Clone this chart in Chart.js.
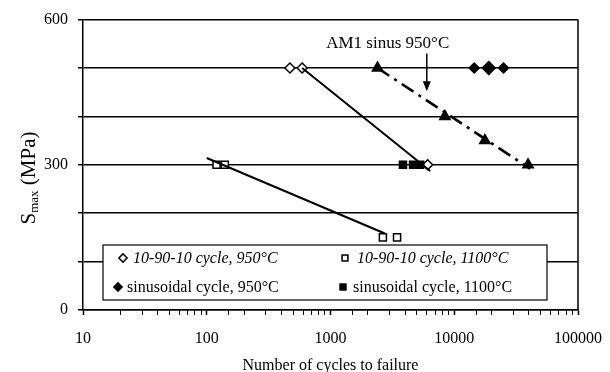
<!DOCTYPE html>
<html>
<head>
<meta charset="utf-8">
<script src="https://cdn.jsdelivr.net/npm/chart.js@4/dist/chart.umd.min.js"></script>
<style>
  body { margin: 0; background: #fff; }
  canvas { display: block; }
</style>
</head>
<body>
<canvas id="fatigueChart" width="610" height="372"></canvas>
<script>
// values
const cycle950N = [470, 590, 6100];
const cycle950S = [500, 500, 300];
const cycle1100N = [120, 140, 2650, 3450];
const cycle1100S = [300, 300, 150, 150];
const sin950N = [14500, 19000, 25000];
const sin950S = [500, 500, 500];
const sin1100N = [3850, 4650, 5300];
const sin1100S = [300, 300, 300];
const am1N = [2400, 8400, 17700, 39500];
const am1S = [500, 400, 350, 300];

// trend lines (end points)
const fit950N = [590, 6400];
const fit950S = [500, 287];
const fit1100N = [100, 2750];
const fit1100S = [314, 158];
const fitAm1N = [2400, 41000];
const fitAm1S = [500, 292];

const xTicks = [10, 100, 1000, 10000, 100000];
const yLabels = [0, 300, 600];

const legendItems = [
    { text: '10-90-10 cycle, 950°C', style: 'rectRot', fill: '#fff', italic: true, mx: 123, tx: 133 },
    { text: '10-90-10 cycle, 1100°C', style: 'rect', fill: '#fff', italic: true, mx: 345, tx: 357 },
    { text: 'sinusoidal cycle, 950°C', style: 'rectRot', fill: '#000', italic: false, mx: 118, tx: 127 },
    { text: 'sinusoidal cycle, 1100°C', style: 'rect', fill: '#000', italic: false, mx: 343, tx: 353 }
];

const serif = "'Liberation Serif', 'DejaVu Serif', serif";

function pts(xs, ys) {
    return xs.map((x, i) => ({ x: x, y: ys[i] }));
}

function lineSet(xs, ys, dash, width) {
    return {
        data: pts(xs, ys),
        showLine: true,
        borderColor: '#000',
        borderWidth: width || 2,
        borderDash: dash || [],
        pointRadius: 0,
        pointHoverRadius: 0
    };
}

function markerSet(xs, ys, style, fill, radius) {
    return {
        data: pts(xs, ys),
        showLine: false,
        pointStyle: style,
        pointRadius: radius,
        pointBackgroundColor: fill,
        pointBorderColor: '#000',
        pointBorderWidth: 1.5
    };
}

// legend box, annotation, y title and frame
const extras = {
    id: 'extras',
    afterDraw(chart) {
        const ctx = chart.ctx;
        const area = chart.chartArea;
        const xs = chart.scales.x;
        const ys = chart.scales.y;
        ctx.save();

        // right frame line
        ctx.strokeStyle = '#000';
        ctx.lineWidth = 1.5;
        ctx.beginPath();
        ctx.moveTo(area.right, area.top);
        ctx.lineTo(area.right, area.bottom);
        ctx.stroke();

        // annotation
        ctx.fillStyle = '#000';
        ctx.font = '17px ' + serif;
        ctx.textAlign = 'center';
        ctx.textBaseline = 'middle';
        ctx.fillText('AM1 sinus 950°C', xs.getPixelForValue(2900), ys.getPixelForValue(551));
        const ax = xs.getPixelForValue(6000);
        const ay0 = ys.getPixelForValue(530);
        const ay1 = ys.getPixelForValue(452);
        ctx.lineWidth = 1.5;
        ctx.beginPath();
        ctx.moveTo(ax, ay0);
        ctx.lineTo(ax, ay1 - 8);
        ctx.stroke();
        ctx.beginPath();
        ctx.moveTo(ax - 4, ay1 - 10);
        ctx.lineTo(ax + 4, ay1 - 10);
        ctx.lineTo(ax, ay1);
        ctx.closePath();
        ctx.fill();

        // legend
        const bx = 103, by = 245, bw = 444, bh = 55;
        ctx.fillStyle = '#fff';
        ctx.fillRect(bx, by, bw, bh);
        ctx.strokeStyle = '#000';
        ctx.lineWidth = 1.2;
        ctx.strokeRect(bx, by, bw, bh);
        ctx.textAlign = 'left';
        legendItems.forEach((item, i) => {
            const my = i < 2 ? 258 : 287;
            ctx.fillStyle = item.fill;
            ctx.strokeStyle = '#000';
            ctx.lineWidth = 1.3;
            Chart.helpers.drawPoint(ctx, { pointStyle: item.style, radius: 4, rotation: 0, borderWidth: 1.3 }, item.mx, my);
            ctx.fill();
            ctx.stroke();
            ctx.fillStyle = '#000';
            ctx.font = (item.italic ? 'italic ' : '') + '16px ' + serif;
            ctx.fillText(item.text, item.tx, my + 1);
        });

        // y axis title with subscript
        ctx.translate(28, 178);
        ctx.rotate(-Math.PI / 2);
        ctx.fillStyle = '#000';
        ctx.textBaseline = 'alphabetic';
        ctx.font = '21px ' + serif;
        const sW = ctx.measureText('S').width;
        ctx.font = '13px ' + serif;
        const subW = ctx.measureText('max').width;
        ctx.font = '21px ' + serif;
        const restW = ctx.measureText(' (MPa)').width;
        let tx = -(sW + subW + restW) / 2;
        ctx.fillText('S', tx, 7);
        tx += sW;
        ctx.font = '13px ' + serif;
        ctx.fillText('max', tx, 10);
        tx += subW;
        ctx.font = '21px ' + serif;
        ctx.fillText(' (MPa)', tx, 7);

        ctx.restore();
    }
};

document.addEventListener('DOMContentLoaded', () => {
    const ctx = document.getElementById('fatigueChart').getContext('2d');
    new Chart(ctx, {
        type: 'scatter',
        data: {
            datasets: [
                lineSet(fit950N, fit950S),
                lineSet(fit1100N, fit1100S),
                lineSet(fitAm1N, fitAm1S, [14, 6, 3, 6], 2.6),
                markerSet(sin1100N, sin1100S, 'rect', '#000', 5),
                markerSet(cycle950N, cycle950S, 'rectRot', '#fff', 5),
                markerSet(cycle1100N, cycle1100S, 'rect', '#fff', 5),
                markerSet(sin950N, sin950S, 'rectRot', '#000', [5, 6.5, 5]),
                markerSet(am1N, am1S, 'triangle', '#000', 6)
            ]
        },
        options: {
            responsive: false,
            animation: false,
            layout: { padding: { top: 18, right: 32, left: 0, bottom: 0 } },
            plugins: {
                legend: { display: false },
                tooltip: { enabled: false }
            },
            scales: {
                x: {
                    type: 'logarithmic',
                    min: 10,
                    max: 100000,
                    afterFit: s => { s.height = 62; s.paddingRight = 32; },
                    border: { color: '#000', width: 1.5 },
                    grid: {
                        drawOnChartArea: false,
                        drawTicks: true,
                        tickLength: 5,
                        tickColor: '#000',
                        tickWidth: c => (xTicks.includes(c.tick && c.tick.value) ? 1.5 : 1)
                    },
                    ticks: {
                        autoSkip: false,
                        maxRotation: 0,
                        padding: 14,
                        color: '#000',
                        font: { family: serif, size: 16 },
                        callback: v => (xTicks.includes(v) ? String(v) : '')
                    },
                    title: {
                        display: true,
                        text: 'Number of cycles to failure',
                        color: '#000',
                        font: { family: serif, size: 16 },
                        padding: { top: 0, bottom: -3 }
                    }
                },
                y: {
                    min: 0,
                    max: 600,
                    afterFit: s => { s.width = 83; },
                    border: { color: '#000', width: 1.5 },
                    grid: {
                        color: '#000',
                        lineWidth: 1.5,
                        tickLength: 5,
                        tickColor: '#000'
                    },
                    ticks: {
                        stepSize: 100,
                        padding: 10,
                        color: '#000',
                        font: { family: serif, size: 16 },
                        callback: v => (yLabels.includes(v) ? String(v) : '')
                    }
                }
            }
        },
        plugins: [extras]
    });
});
</script>
</body>
</html>
